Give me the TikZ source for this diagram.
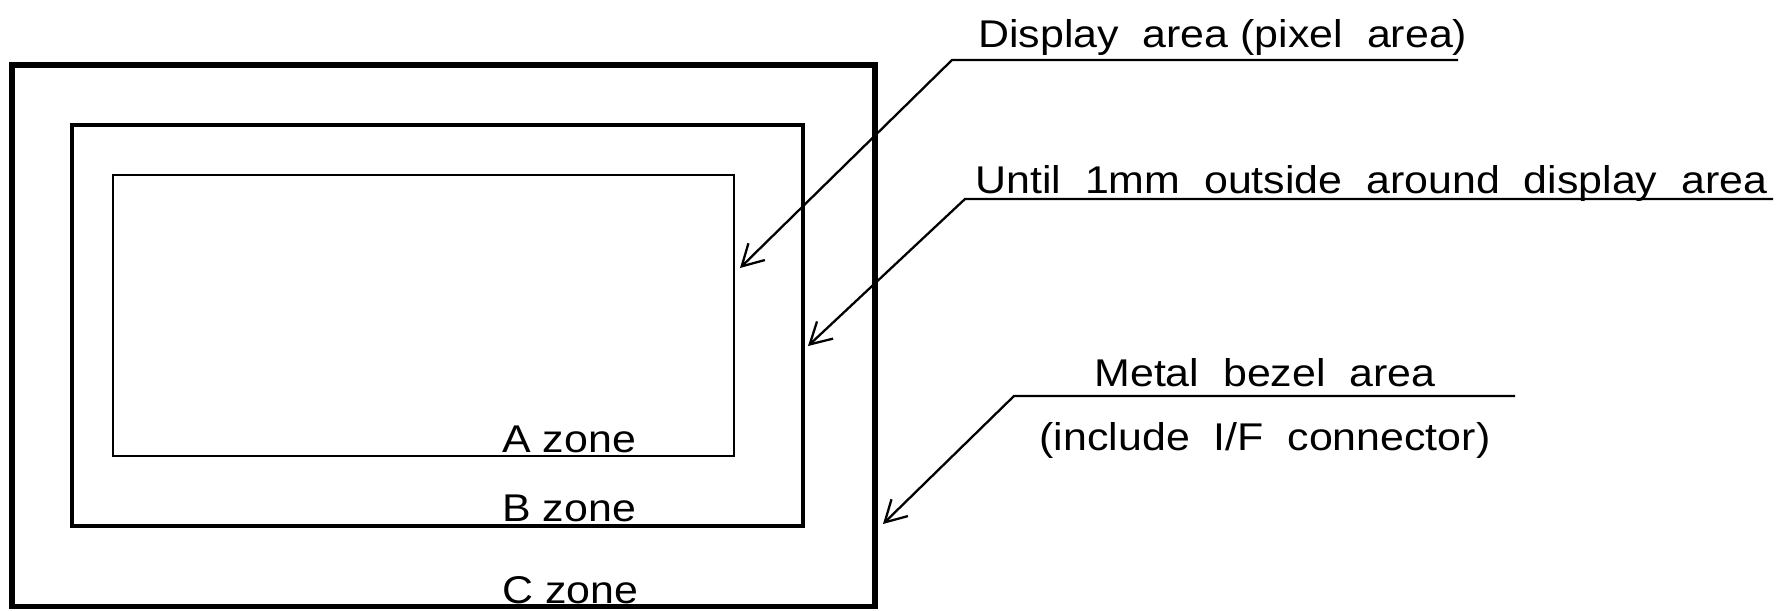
\documentclass[tikz,border=0pt]{standalone}
\usepackage{fontspec}
\setmainfont{Liberation Sans}[FakeStretch=1.11]
\usepackage{tikz}
\usetikzlibrary{arrows.meta}
\tikzset{
    >={Straight Barb[length=0.42cm, width=0.47cm]} % Default arrow tip
}
\tikzstyle{callout}=[
    font = \fontsize{22}{26}\selectfont,
    inner sep = 0pt,
    anchor = base west
]
\tikzstyle{leader}=[
    line width = 1.3pt,
    line join = miter
]

\begin{document}
\begin{tikzpicture}
    \useasboundingbox (0, 0) rectangle (35.76, 12.2);

    % zones
    \draw [line width = 2.9pt] (0.24, 0.07) rectangle (17.5, 10.9);
    \draw [line width = 2pt] (1.44, 1.68) rectangle (16.06, 9.7);
    \draw [line width = 1.3pt] (2.26, 3.08) rectangle (14.68, 8.7);

    \node [callout] (zonea) at (10.04, 3.16) {A zone};
    \node [callout] (zoneb) at (10.04, 1.78) {B zone};
    \node [callout] (zonec) at (10.04, 0.14) {C zone};

    % callouts
    \node [callout] (disp) at (19.56, 11.24) {Display\ \ area (pixel\ \ area)};
    \node [callout] (until) at (19.5, 8.34) {Until\ \ 1mm\ \ outside\ \ around\ \ display\ \ area};
    \node [callout, anchor = base] (bezel) at (25.3, 4.48) {Metal\ \ bezel\ \ area};
    \node [callout, anchor = base] (iface) at (25.3, 3.2) {(include\ \ I/F\ \ connector)};

    \coordinate (disptip) at (14.8, 6.84);
    \coordinate (dispknee) at (19.04, 11.0);
    \coordinate (dispend) at (29.16, 11.0);

    \coordinate (untiltip) at (16.16, 5.28);
    \coordinate (untilknee) at (19.3, 8.22);
    \coordinate (untilend) at (35.46, 8.22);

    \coordinate (bezeltip) at (17.66, 1.72);
    \coordinate (bezelknee) at (20.28, 4.28);
    \coordinate (bezelend) at (30.3, 4.28);

    \draw [leader, ->] (dispend) -- (dispknee) -- (disptip);
    \draw [leader, ->] (untilend) -- (untilknee) -- (untiltip);
    \draw [leader, ->] (bezelend) -- (bezelknee) -- (bezeltip);
\end{tikzpicture}
\end{document}
